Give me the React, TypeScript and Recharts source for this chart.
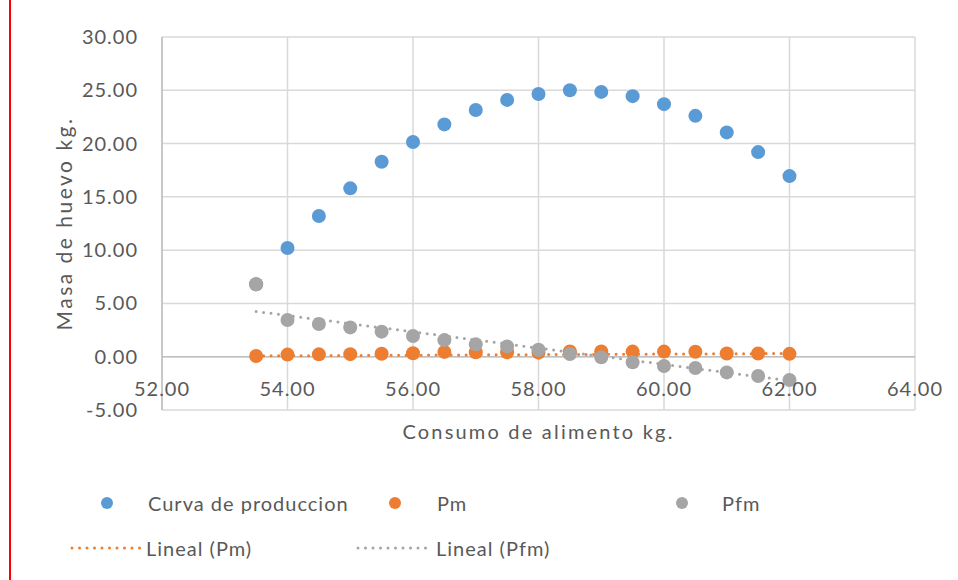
import { ScatterChart, Scatter, XAxis, YAxis, CartesianGrid, ReferenceLine, Legend } from "recharts";

const consumo = [53.5, 54, 54.5, 55, 55.5, 56, 56.5, 57, 57.5, 58, 58.5, 59, 59.5, 60, 60.5, 61, 61.5, 62];
const curvaProduccion = [6.8, 10.2, 13.2, 15.8, 18.3, 20.15, 21.8, 23.15, 24.1, 24.65, 25.0, 24.85, 24.45, 23.7, 22.6, 21.05, 19.2, 16.95];
const pm = [0.07, 0.2, 0.22, 0.24, 0.28, 0.32, 0.45, 0.42, 0.42, 0.38, 0.5, 0.5, 0.48, 0.48, 0.47, 0.3, 0.3, 0.27];
const pfm = [6.8, 3.44, 3.07, 2.75, 2.35, 1.94, 1.56, 1.16, 0.97, 0.66, 0.25, -0.06, -0.53, -0.87, -1.06, -1.47, -1.81, -2.18];

// trendline ends
const linealPm = [{ x: 53.5, y: 0.08 }, { x: 62, y: 0.3 }];
const linealPfm = [{ x: 53.5, y: 4.25 }, { x: 62, y: -2.25 }];

const xTicks = [52, 54, 56, 58, 60, 62, 64];
const yTicks = [-5, 0, 5, 10, 15, 20, 25, 30];

const BLUE = "#5B9BD5";
const ORANGE = "#ED7D31";
const GRAY = "#A5A5A5";
const TEXT = "#595959";
const FONT = "Lato, 'Open Sans', sans-serif";

const toPoints = (ys: number[]) => consumo.map((x, i) => ({ x, y: ys[i] }));

const dot = (color: string) => (props: any) => (
  <circle cx={props.cx} cy={props.cy} r={7} fill={color} />
);

const YTick = ({ x, y, payload }: any) => (
  <text x={x - 24} y={y} dy="0.35em" textAnchor="end" fill={TEXT} fontSize={20} fontFamily={FONT} letterSpacing={1}>
    {Number(payload.value).toFixed(2)}
  </text>
);

// Excel puts these labels under the zero line, not at the bottom edge
const XTick = ({ x, y, payload }: any) => (
  <text x={x} y={y - 21} dy="0.35em" textAnchor="middle" fill={TEXT} fontSize={20} fontFamily={FONT} letterSpacing={1}>
    {Number(payload.value).toFixed(2)}
  </text>
);

const legendRows = [
  [
    { label: "Curva de produccion", color: BLUE, kind: "dot", mx: 107, tx: 148 },
    { label: "Pm", color: ORANGE, kind: "dot", mx: 395, tx: 437 },
    { label: "Pfm", color: GRAY, kind: "dot", mx: 682, tx: 722 },
  ],
  [
    { label: "Lineal (Pm)", color: ORANGE, kind: "line", mx: 72, tx: 146 },
    { label: "Lineal (Pfm)", color: GRAY, kind: "line", mx: 358, tx: 436 },
  ],
];

const renderLegend = () => (
  <div style={{ position: "relative", width: 958, height: 110, fontFamily: FONT, fontSize: 20, color: TEXT, letterSpacing: 1 }}>
    {legendRows.map((row, r) =>
      row.map((it) => {
        const cy = 33 + r * 45;
        return (
          <div key={it.label}>
            <svg style={{ position: "absolute", left: 0, top: 0, overflow: "visible" }} width={1} height={1}>
              {it.kind === "dot" ? (
                <circle cx={it.mx} cy={cy} r={6} fill={it.color} />
              ) : (
                <line x1={it.mx} y1={cy} x2={it.mx + 68} y2={cy} stroke={it.color} strokeWidth={3} strokeDasharray="0 7.5" strokeLinecap="round" />
              )}
            </svg>
            <span style={{ position: "absolute", left: it.tx, top: cy - 13, lineHeight: "26px", whiteSpace: "nowrap" }}>{it.label}</span>
          </div>
        );
      })
    )}
  </div>
);

export default function App() {
  return (
    <div style={{ position: "absolute", left: 0, top: 0, width: 958, height: 580, background: "#fff" }}>
      <div style={{ position: "absolute", left: 9, top: 0, width: 2, height: 580, background: "#FF0000" }} />
      <ScatterChart width={958} height={580} margin={{ top: 37, right: 43, bottom: 140, left: 0 }}>
        <CartesianGrid stroke="#D9D9D9" strokeWidth={1.5} />
        <XAxis
          type="number"
          dataKey="x"
          domain={[52, 64]}
          ticks={xTicks}
          height={30}
          axisLine={false}
          tickLine={false}
          tickSize={0}
          tickMargin={0}
          tick={<XTick />}
          label={{ value: "Consumo de alimento kg.", position: "bottom", offset: -15, fill: TEXT, fontSize: 20, fontFamily: FONT, letterSpacing: 2.2 }}
        />
        <YAxis
          type="number"
          dataKey="y"
          domain={[-5, 30]}
          ticks={yTicks}
          width={162}
          axisLine={{ stroke: "#BFBFBF", strokeWidth: 1.5 }}
          tickLine={false}
          tickSize={0}
          tickMargin={0}
          tick={<YTick />}
          label={{ value: "Masa de huevo kg.", angle: -90, position: "center", dx: -16, fill: TEXT, fontSize: 21, fontFamily: FONT, letterSpacing: 2.5 }}
        />
        <ReferenceLine y={0} stroke="#BFBFBF" strokeWidth={1.5} />
        <Scatter name="Curva de produccion" data={toPoints(curvaProduccion)} fill={BLUE} shape={dot(BLUE)} isAnimationActive={false} />
        <Scatter name="Pm" data={toPoints(pm)} fill={ORANGE} shape={dot(ORANGE)} isAnimationActive={false} />
        <Scatter name="Pfm" data={toPoints(pfm)} fill={GRAY} shape={dot(GRAY)} isAnimationActive={false} />
        <ReferenceLine segment={linealPm} stroke={ORANGE} strokeWidth={3} strokeDasharray="0 7.5" strokeLinecap="round" />
        <ReferenceLine segment={linealPfm} stroke={GRAY} strokeWidth={3} strokeDasharray="0 7.5" strokeLinecap="round" />
        <Legend
          layout="horizontal"
          verticalAlign="middle"
          align="center"
          content={renderLegend}
          wrapperStyle={{ position: "absolute", left: 0, top: 470, width: 958, height: 110 }}
        />
      </ScatterChart>
    </div>
  );
}
